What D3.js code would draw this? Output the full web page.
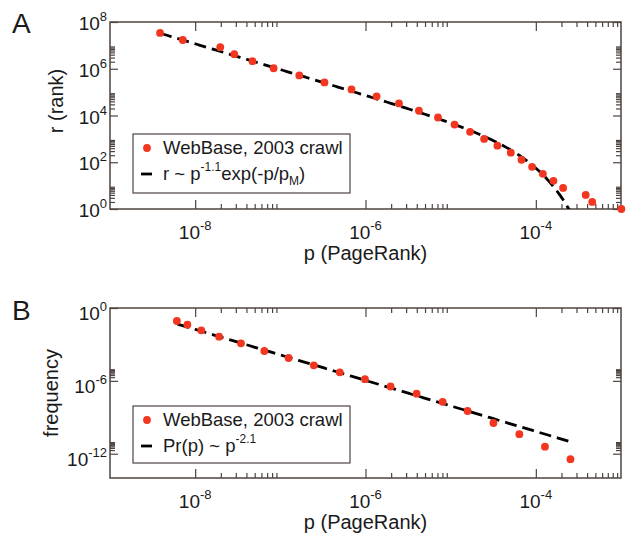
<!DOCTYPE html>
<meta charset="utf-8">
<script src="https://d3js.org/d3.v7.min.js"></script>
<style>
    body { margin: 0; background: #fff; }
    text { font-family: "Liberation Sans", Arial, sans-serif; fill: #1a1a1a; }
    .tick line { stroke: #4d4440; stroke-width: 1.2px; }
</style>
<div id="chart"></div>
<script>
    // panel A: rank vs PageRank (log-binned points)
    const pageRankA = [3.87e-9, 7.16e-9, 1.97e-8, 2.88e-8, 4.72e-8, 8.34e-8, 1.67e-7, 3.30e-7,
        6.84e-7, 1.35e-6, 2.47e-6, 4.24e-6, 7.10e-6, 1.11e-5, 1.69e-5, 2.47e-5, 3.54e-5,
        5.08e-5, 6.79e-5, 9.04e-5, 1.21e-4, 1.61e-4, 2.09e-4, 3.85e-4, 4.59e-4, 1.01e-3];
    const rankA = [3.4e7, 1.7e7, 8.4e6, 4.2e6, 2.1e6, 1.05e6, 5.2e5, 2.6e5, 1.3e5, 6.6e4,
        3.3e4, 1.6e4, 8.2e3, 4.1e3, 2.0e3, 1.0e3, 512, 256, 128, 64, 32, 16, 8, 4, 2, 1];

    // panel B: frequency vs PageRank
    const pageRankB = [6.10e-9, 8.11e-9, 1.18e-8, 1.91e-8, 3.45e-8, 6.49e-8, 1.25e-7, 2.47e-7,
        4.99e-7, 9.86e-7, 1.97e-6, 3.98e-6, 8.05e-6, 1.58e-5, 3.18e-5, 6.40e-5, 1.28e-4, 2.55e-4];
    const freqB = [8.5e-2, 4.2e-2, 1.46e-2, 4.33e-3, 1.24e-3, 2.88e-4, 7.6e-5, 1.91e-5, 5.07e-6,
        1.37e-6, 3.43e-7, 8.75e-8, 1.88e-8, 3.30e-9, 3.38e-10, 4.05e-11, 3.78e-12, 3.53e-13];

    // fitted curves, as given in the legends
    const fitA = {coef: Math.pow(10, -1.733), expo: -1.1, pM: 4.73e-5, from: 3.87e-9, to: 3.0e-4};
    const fitB = {coef: Math.pow(10, -18.562), expo: -2.1, from: 6.2e-9, to: 2.55e-4};

    const xMajor = [1e-8, 1e-6, 1e-4];
    const yMajorA = [1, 1e2, 1e4, 1e6, 1e8];
    const yMajorB = [1e-12, 1e-6, 1];

    const red = "#f2361f";
    const frameColor = "#4d4440";

    const svg = d3.select("#chart").append("svg")
        .attr("width", 627)
        .attr("height", 533);

    const x = d3.scaleLog().domain([1e-9, 1e-3]).range([110, 621]);
    const yA = d3.scaleLog().domain([1, 1e8]).range([209, 22]);
    const yB = d3.scaleLog().domain([1e-14, 1]).range([478, 308]);

    function minorsOf(majors, domain) {
        let out = [];
        majors.forEach(function (m) {
            for (let k = 2; k <= 9; k++) {
                let v = m * k;
                if (v >= domain[0] && v <= domain[1]) out.push(v);
            }
        });
        return out;
    }

    function supLabel(g, px, py, exp, anchor) {
        let t = g.append("text")
            .attr("x", px)
            .attr("y", py)
            .attr("text-anchor", anchor)
            .style("font-size", "19px");
        t.append("tspan").text("10");
        t.append("tspan").attr("dy", -9).style("font-size", "13px").text(exp);
    }

    function drawPanel(y, yMajor, top, bottom, labelDy) {
        let g = svg.append("g");
        let left = x.range()[0], right = x.range()[1];

        let clean = function (sel) { sel.select(".domain").remove(); };
        let xMinor = minorsOf(xMajor, x.domain());
        let yMinor = minorsOf(yMajor, y.domain());

        g.append("g").attr("transform", "translate(0," + bottom + ")")
            .call(d3.axisBottom(x).tickValues(xMajor).tickSize(-9).tickFormat("")).call(clean);
        g.append("g").attr("transform", "translate(0," + bottom + ")")
            .call(d3.axisBottom(x).tickValues(xMinor).tickSize(-5).tickFormat("")).call(clean);
        g.append("g").attr("transform", "translate(0," + top + ")")
            .call(d3.axisTop(x).tickValues(xMajor).tickSize(-9).tickFormat("")).call(clean);
        g.append("g").attr("transform", "translate(0," + top + ")")
            .call(d3.axisTop(x).tickValues(xMinor).tickSize(-5).tickFormat("")).call(clean);

        g.append("g").attr("transform", "translate(" + left + ",0)")
            .call(d3.axisLeft(y).tickValues(yMajor).tickSize(-8).tickFormat("")).call(clean);
        g.append("g").attr("transform", "translate(" + left + ",0)")
            .call(d3.axisLeft(y).tickValues(yMinor).tickSize(-5).tickFormat("")).call(clean);
        g.append("g").attr("transform", "translate(" + right + ",0)")
            .call(d3.axisRight(y).tickValues(yMajor).tickSize(-8).tickFormat("")).call(clean);
        g.append("g").attr("transform", "translate(" + right + ",0)")
            .call(d3.axisRight(y).tickValues(yMinor).tickSize(-5).tickFormat("")).call(clean);

        g.append("rect")
            .attr("x", left).attr("y", top)
            .attr("width", right - left).attr("height", bottom - top)
            .attr("fill", "none")
            .attr("stroke", frameColor)
            .attr("stroke-width", 1.5);

        xMajor.forEach(function (v) {
            supLabel(g, x(v), bottom + 30, String(Math.round(Math.log10(v))), "middle");
        });
        yMajor.forEach(function (v) {
            supLabel(g, left - 3, y(v) + labelDy, String(Math.round(Math.log10(v))), "end");
        });

        g.append("text")
            .attr("x", (left + right) / 2)
            .attr("y", bottom + 51)
            .attr("text-anchor", "middle")
            .style("font-size", "20px")
            .text("p (PageRank)");

        return g;
    }

    function drawFit(g, fn, from, to, clipId, top, bottom) {
        g.append("clipPath").attr("id", clipId)
            .append("rect")
            .attr("x", 110).attr("y", top)
            .attr("width", 511).attr("height", bottom - top);
        let lp = d3.range(Math.log10(from), Math.log10(to) + 1e-9, 0.02);
        let line = d3.line()
            .x(function (d) { return x(Math.pow(10, d)); })
            .y(function (d) { return fn(Math.pow(10, d)); });
        g.append("path")
            .datum(lp)
            .attr("d", line)
            .attr("clip-path", "url(#" + clipId + ")")
            .attr("fill", "none")
            .attr("stroke", "#000")
            .attr("stroke-width", 2.8)
            .attr("stroke-dasharray", "12,6");
    }

    function drawPoints(g, xs, ys, y) {
        g.selectAll(null)
            .data(xs)
            .enter()
            .append("circle")
            .attr("cx", function (d) { return x(d); })
            .attr("cy", function (d, i) { return y(ys[i]); })
            .attr("r", 3.9)
            .attr("fill", red);
    }

    function drawLegend(g, bx, by, bw, bh) {
        g.append("rect")
            .attr("x", bx).attr("y", by)
            .attr("width", bw).attr("height", bh)
            .attr("fill", "#fff")
            .attr("stroke", frameColor)
            .attr("stroke-width", 1.2);
        g.append("circle")
            .attr("cx", bx + 14).attr("cy", by + 14)
            .attr("r", 3.9).attr("fill", red);
        g.append("text")
            .attr("x", bx + 30).attr("y", by + 20)
            .style("font-size", "18.5px")
            .text("WebBase, 2003 crawl");
        g.append("line")
            .attr("x1", bx + 8).attr("x2", bx + 19)
            .attr("y1", by + 40).attr("y2", by + 40)
            .attr("stroke", "#000").attr("stroke-width", 2.8);
    }

    // ---- panel A
    let gA = drawPanel(yA, yMajorA, 22, 209, 8);
    drawFit(gA, function (p) {
        return yA(fitA.coef * Math.pow(p, fitA.expo) * Math.exp(-p / fitA.pM));
    }, fitA.from, fitA.to, "clipA", 22, 209);
    drawPoints(gA, pageRankA, rankA, yA);
    drawLegend(gA, 133, 134, 217, 59);
    let tA = gA.append("text")
        .attr("x", 163).attr("y", 180)
        .style("font-size", "18.5px");
    tA.append("tspan").text("r ~ p");
    tA.append("tspan").attr("dy", -9).style("font-size", "12px").text("-1.1");
    tA.append("tspan").attr("dy", 9).text("exp(-p/p");
    tA.append("tspan").attr("dy", 5).style("font-size", "12px").text("M");
    tA.append("tspan").attr("dy", -5).text(")");

    svg.append("text")
        .attr("transform", "translate(63,101) rotate(-90)")
        .attr("text-anchor", "middle")
        .style("font-size", "20px")
        .text("r (rank)");
    svg.append("text").attr("x", 12).attr("y", 33).style("font-size", "28px").text("A");

    // ---- panel B
    let gB = drawPanel(yB, yMajorB, 308, 478, 12);
    drawFit(gB, function (p) {
        return yB(fitB.coef * Math.pow(p, fitB.expo));
    }, fitB.from, fitB.to, "clipB", 308, 478);
    drawPoints(gB, pageRankB, freqB, yB);
    drawLegend(gB, 133, 406, 217, 57);
    let tB = gB.append("text")
        .attr("x", 163).attr("y", 452)
        .style("font-size", "18.5px");
    tB.append("tspan").text("Pr(p) ~ p");
    tB.append("tspan").attr("dy", -9).style("font-size", "12px").text("-2.1");

    svg.append("text")
        .attr("transform", "translate(58,393) rotate(-90)")
        .attr("text-anchor", "middle")
        .style("font-size", "20px")
        .text("frequency");
    svg.append("text").attr("x", 12).attr("y", 320).style("font-size", "28px").text("B");
</script>
